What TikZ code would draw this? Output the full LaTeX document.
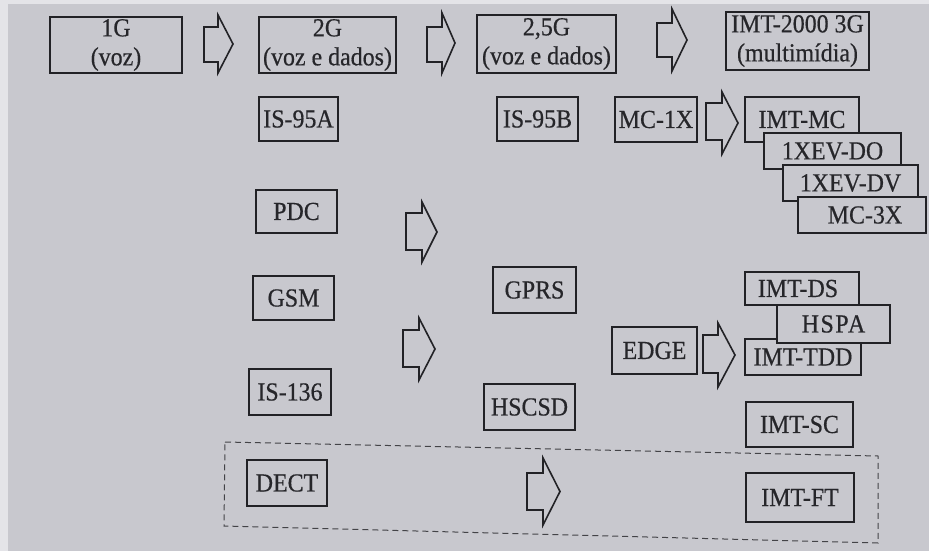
\documentclass[tikz,border=0pt]{standalone}
\usepackage{fontspec}
\setmainfont{Liberation Serif}[FakeStretch=0.92,FakeBold=0.5]
\definecolor{bgc}{RGB}{200,200,206}
\definecolor{edgec}{RGB}{228,228,232}
\definecolor{ink}{RGB}{34,34,38}
\definecolor{txt}{RGB}{38,38,42}
\tikzset{
  bx/.style={draw=ink, line width=1.8pt, fill=bgc, inner sep=0pt, text=txt,
    font=\fontsize{26}{29}\selectfont, align=center},
  blockarr/.style={draw=ink, line width=1.6pt, line join=miter},
  grp/.style={draw=ink!85, line width=1pt, dash pattern=on 6pt off 4pt},
}
% box from (x1,y1) to (x2,y2)
\newcommand\bxn[6]{%
  \node[bx, minimum width={(#4-#2)*1pt}, minimum height={(#5-#3)*1pt}]
    (#1) at ({(#2+#4)/2},{(#3+#5)/2}) {#6};}
\newcommand\blkarrow[7]{%
  \draw[blockarr] (#1,#5) -- (#2,#5) -- (#2,#4) -- (#3,{(#4+#7)/2}) -- (#2,#7) -- (#2,#6) -- (#1,#6) -- cycle;}
\begin{document}
\begin{tikzpicture}[x=1pt,y=-1pt]
\fill[bgc] (0,0) rectangle (929,551);
\fill[edgec] (0,0) rectangle (8,551);
\fill[edgec] (0,0) rectangle (929,4);
\useasboundingbox (0,0) rectangle (929,551);

% group of DECT
\draw[grp] (225,442) -- (878,456) -- (878,543) -- (224,526) -- cycle;

% top row
\bxn{g1}{50}{17}{182}{73}{1G\\(voz)}
\bxn{g2}{259}{17}{396}{73}{2G\\(voz e dados)}
\bxn{g25}{477}{15}{616}{73}{2,5G\\(voz e dados)}
\bxn{g3}{726}{12}{869}{70}{IMT-2000 3G\\(multimídia)}

% 2G column
\bxn{is95a}{259}{97}{338}{141}{IS-95A}
\bxn{pdc}{256}{190}{337}{233}{PDC}
\bxn{gsm}{253}{276}{334}{320}{GSM}
\bxn{is136}{249}{369}{331}{415}{IS-136}
\bxn{dect}{247}{460}{327}{506}{DECT}

% 2,5G column
\bxn{is95b}{497}{97}{578}{141}{IS-95B}
\bxn{gprs}{493}{267}{576}{313}{GPRS}
\bxn{hscsd}{484}{384}{575}{430}{HSCSD}
\bxn{mc1x}{615}{97}{697}{142}{MC-1X}
\bxn{edge}{612}{327}{697}{374}{EDGE}

% 3G column
\bxn{imtmc}{745}{97}{859}{142}{IMT-MC}
\bxn{evdo}{764}{133}{901}{169}{1XEV-DO}
\bxn{evdv}{783}{165}{918}{201}{1XEV-DV}
\bxn{mc3x}{798}{197}{926}{233}{\hspace*{6pt}MC-3X}
\bxn{imtds}{745}{272}{859}{305}{IMT-DS\hspace*{8pt}}
\bxn{imttdd}{745}{339}{861}{375}{IMT-TDD}
\bxn{hspa}{777}{305}{890}{343}{\addfontfeature{LetterSpace=6}HSPA}
\bxn{imtsc}{746}{402}{853}{447}{IMT-SC}
\bxn{imtft}{746}{473}{854}{522}{IMT-FT}

% block arrows
\blkarrow{204}{218}{233}{15}{27}{62}{73}
\blkarrow{427}{442}{455}{13}{27}{62}{73}
\blkarrow{657}{672}{687}{9}{23}{57}{71}
\blkarrow{706}{722}{738}{92}{103}{140}{154}
\blkarrow{406}{422}{437}{202}{213}{250}{262}
\blkarrow{403}{419}{435}{318}{330}{367}{380}
\blkarrow{703}{718}{735}{323}{335}{373}{387}
\blkarrow{527}{543}{560}{458}{473}{510}{525}
\end{tikzpicture}
\end{document}
